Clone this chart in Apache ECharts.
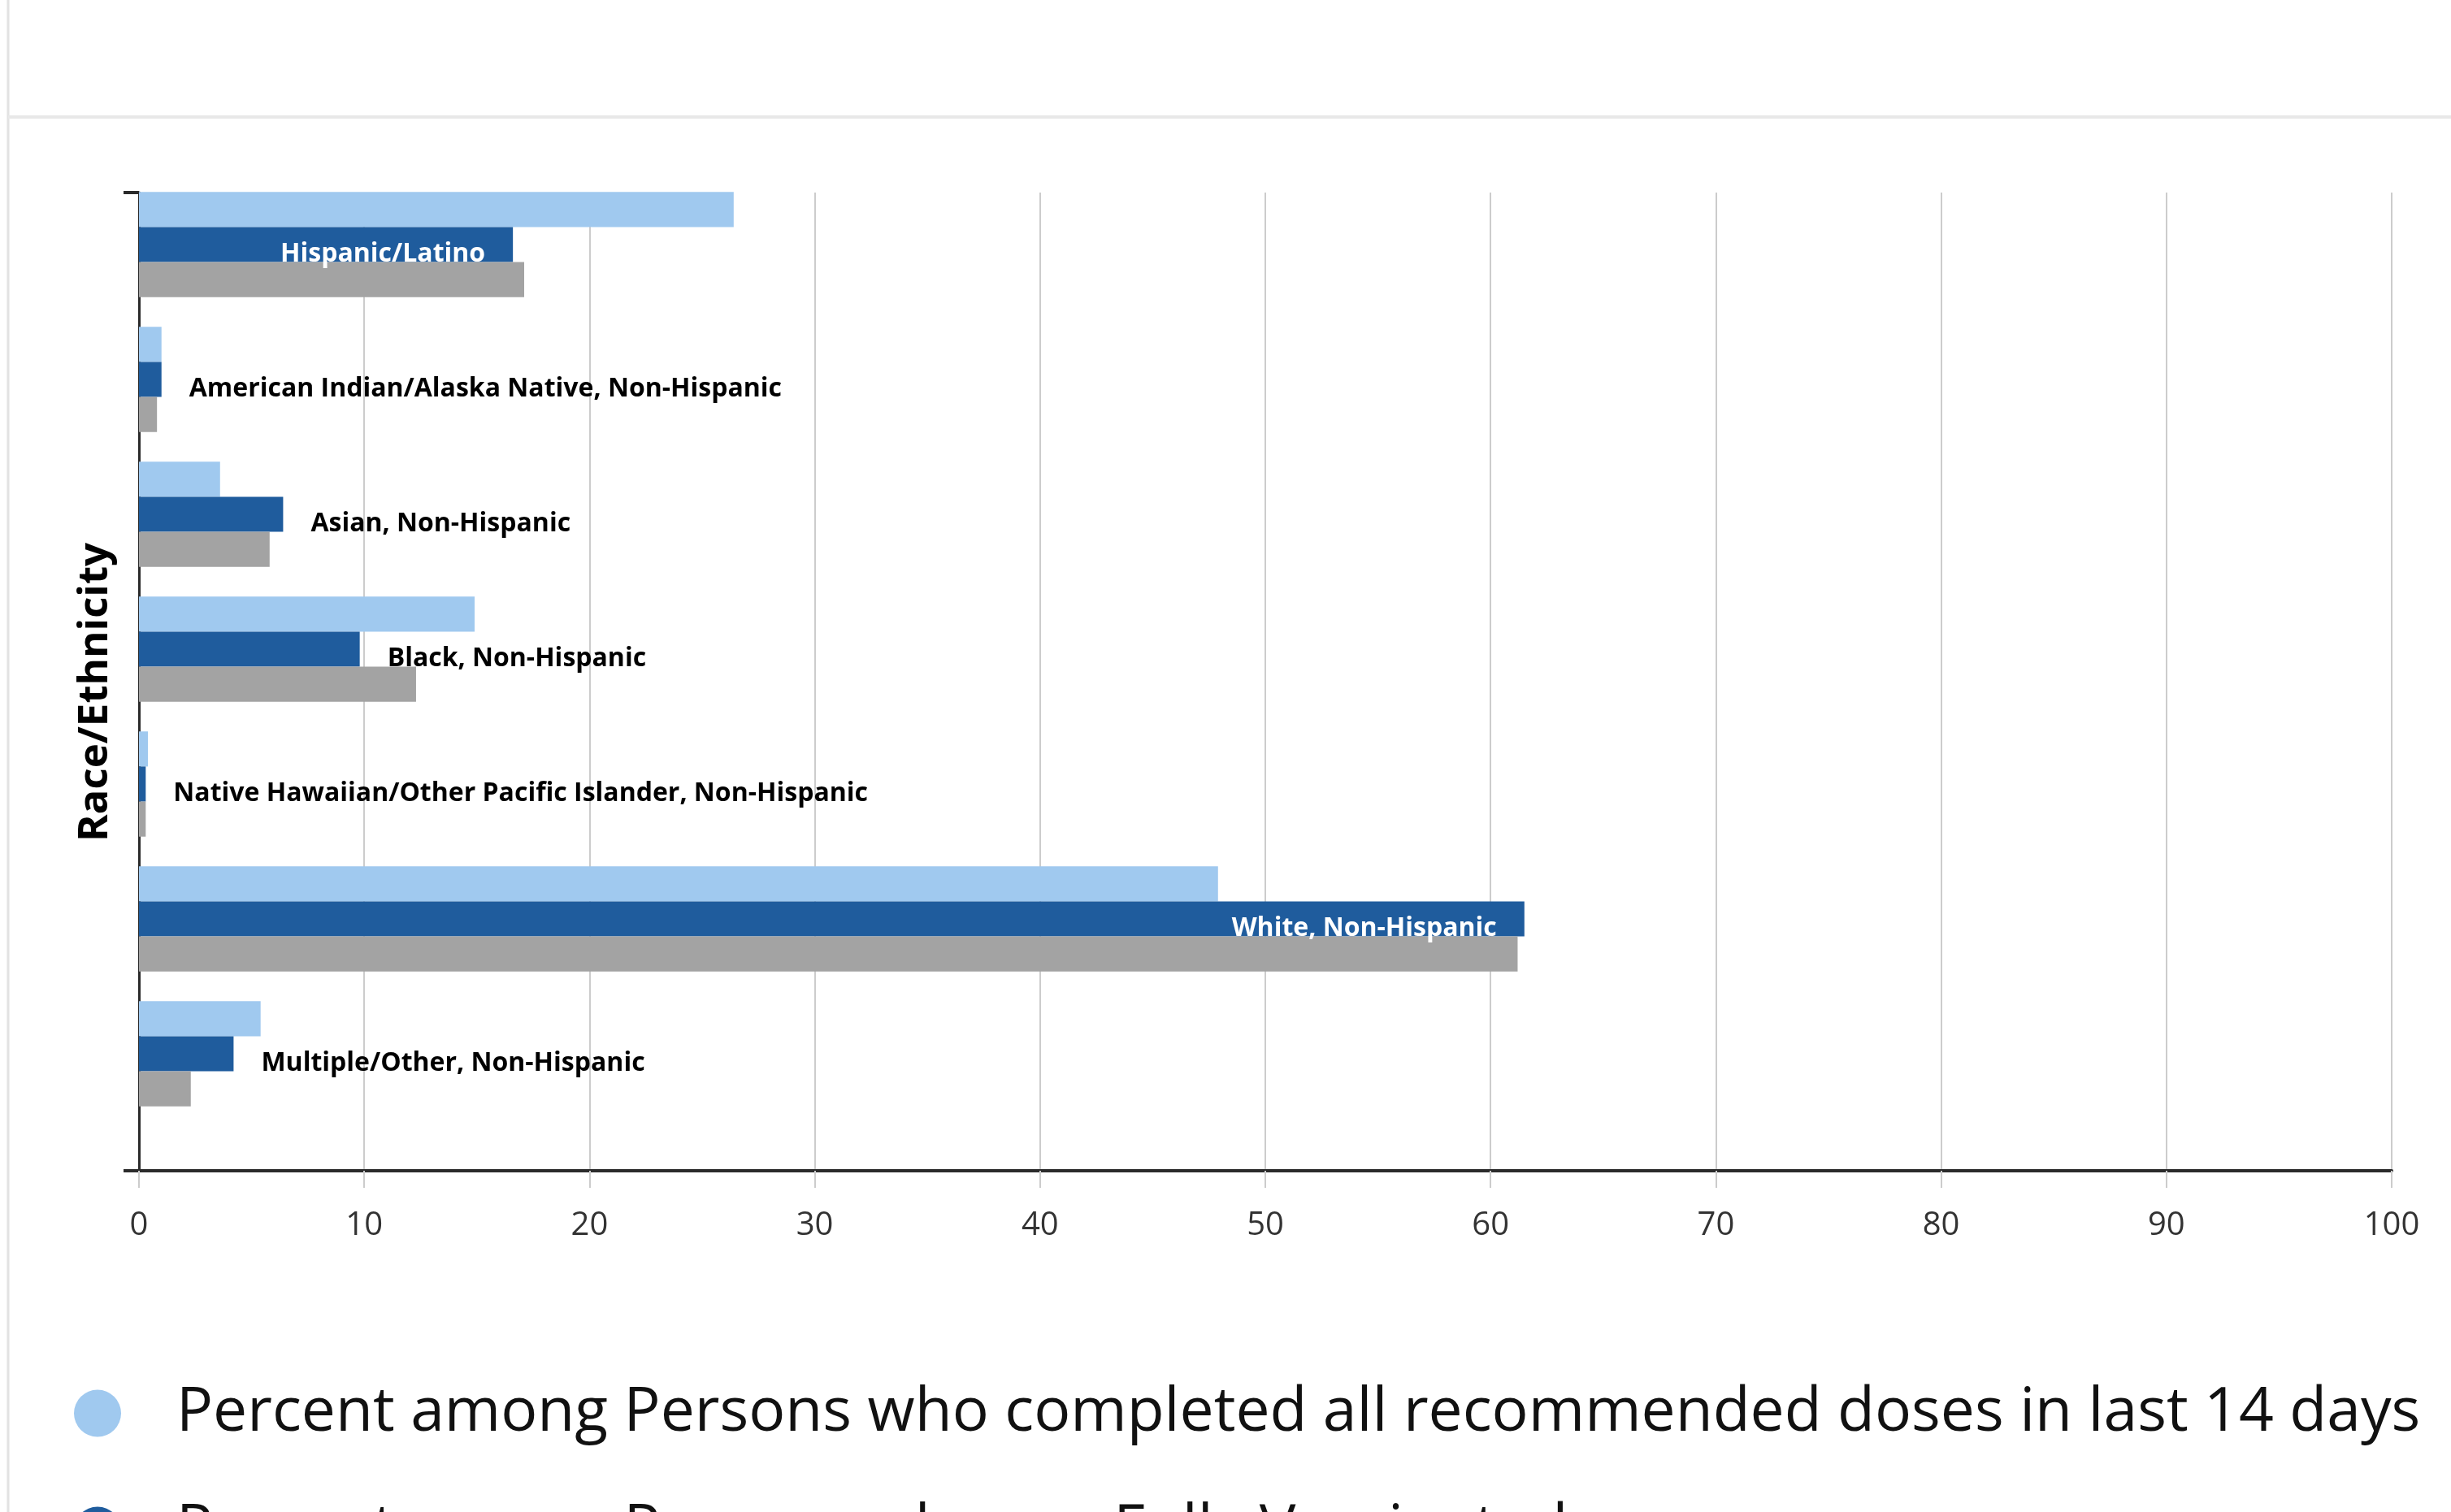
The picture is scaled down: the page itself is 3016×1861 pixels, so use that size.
<!DOCTYPE html>
<html>
<head>
<meta charset="utf-8">
<script src="https://cdn.jsdelivr.net/npm/echarts@6/dist/echarts.min.js"></script>
<style>
html,body{margin:0;padding:0;background:#fff;}
#chart{width:3016px;height:1861px;}
</style>
</head>
<body>
<div id="chart"></div>
<script>
var categories = [
  "Hispanic/Latino",
  "American Indian/Alaska Native, Non-Hispanic",
  "Asian, Non-Hispanic",
  "Black, Non-Hispanic",
  "Native Hawaiian/Other Pacific Islander, Non-Hispanic",
  "White, Non-Hispanic",
  "Multiple/Other, Non-Hispanic"
];
var seriesNames = [
  "Percent among Persons who completed all recommended doses in last 14 days",
  "Percent among Persons who are Fully Vaccinated",
  "Percent of US Population"
];
var last14Days = [26.4, 1.0, 3.6, 14.9, 0.4, 47.9, 5.4];
var fullyVaccinated = [16.6, 1.0, 6.4, 9.8, 0.3, 61.5, 4.2];
var usPopulation = [17.1, 0.8, 5.8, 12.3, 0.3, 61.2, 2.3];
var xTicks = [0, 10, 20, 30, 40, 50, 60, 70, 80, 90, 100];

var colors = ["#a0c9ef", "#1f5c9d", "#a3a3a3"];
var FONT = "'Open Sans', 'Noto Sans', sans-serif";

var chart = echarts.init(document.getElementById('chart'), null, {renderer: 'canvas'});

var darkData = fullyVaccinated.map(function (v, i) {
  var inside = v > 15;
  return {
    value: v,
    label: {
      position: inside ? 'insideRight' : 'right',
      color: inside ? '#ffffff' : '#000000'
    }
  };
});

var legendTop = 1697, legendStep = 144;
var legends = seriesNames.map(function (name, i) {
  return {
    orient: 'vertical',
    left: 86,
    top: legendTop + i * legendStep,
    icon: 'circle',
    itemWidth: 58,
    itemHeight: 58,
    data: [name],
    textStyle: {fontFamily: FONT, fontSize: 75, color: '#111', padding: [0, 0, 0, 63]}
  };
});

var option = {
  animation: false,
  backgroundColor: '#ffffff',
  color: colors,
  graphic: [
    {type: 'line', shape: {x1: 10, y1: 0, x2: 10, y2: 1861}, style: {stroke: '#e2e2e2', lineWidth: 3}},
    {type: 'line', shape: {x1: 10, y1: 144, x2: 3016, y2: 144}, style: {stroke: '#e8e8e8', lineWidth: 4}}
  ],
  legend: legends,
  grid: [
    {left: 171, right: 73, top: 237, bottom: 420, containLabel: false},
    {left: 171, right: 73, top: 218, bottom: 481, containLabel: false}
  ],
  xAxis: [
    {
      gridIndex: 0, type: 'value', min: 0, max: 100, interval: 10,
      axisLine: {show: true, lineStyle: {color: '#2b2b2b', width: 4}},
      axisTick: {show: true, length: 21, lineStyle: {color: '#cccccc', width: 2}},
      splitLine: {show: true, lineStyle: {color: '#cccccc', width: 2}},
      axisLabel: {fontFamily: FONT, fontSize: 40, color: '#333', margin: 48,
        formatter: function (v) { return xTicks.indexOf(v) >= 0 ? String(v) : ''; }}
    },
    {
      gridIndex: 1, type: 'value', min: 0, max: 100, show: false
    }
  ],
  yAxis: [
    {
      gridIndex: 0, type: 'value', min: 0, max: 1, interval: 1,
      name: 'Race/Ethnicity', nameLocation: 'middle', nameGap: 28,
      nameTextStyle: {fontFamily: FONT, fontSize: 51, fontWeight: 'bold', color: '#000', padding: [0, 26, 0, 0]},
      axisLine: {show: true, lineStyle: {color: '#2b2b2b', width: 3}},
      axisTick: {show: true, length: 19, lineStyle: {color: '#2b2b2b', width: 4}},
      axisLabel: {show: false},
      splitLine: {show: false}
    },
    {
      gridIndex: 1, type: 'category', data: categories, inverse: true, show: false
    }
  ],
  series: [
    {
      name: seriesNames[0], type: 'bar', xAxisIndex: 1, yAxisIndex: 1,
      data: last14Days, barGap: '0%', barCategoryGap: '22%'
    },
    {
      name: seriesNames[1], type: 'bar', xAxisIndex: 1, yAxisIndex: 1,
      data: darkData, barGap: '0%', barCategoryGap: '22%',
      label: {
        show: true, distance: 34, offset: [0, 12],
        fontFamily: FONT, fontSize: 32, fontWeight: 'bold',
        formatter: function (p) { return categories[p.dataIndex]; }
      }
    },
    {
      name: seriesNames[2], type: 'bar', xAxisIndex: 1, yAxisIndex: 1,
      data: usPopulation, barGap: '0%', barCategoryGap: '22%'
    }
  ]
};
chart.setOption(option);
</script>
</body>
</html>
